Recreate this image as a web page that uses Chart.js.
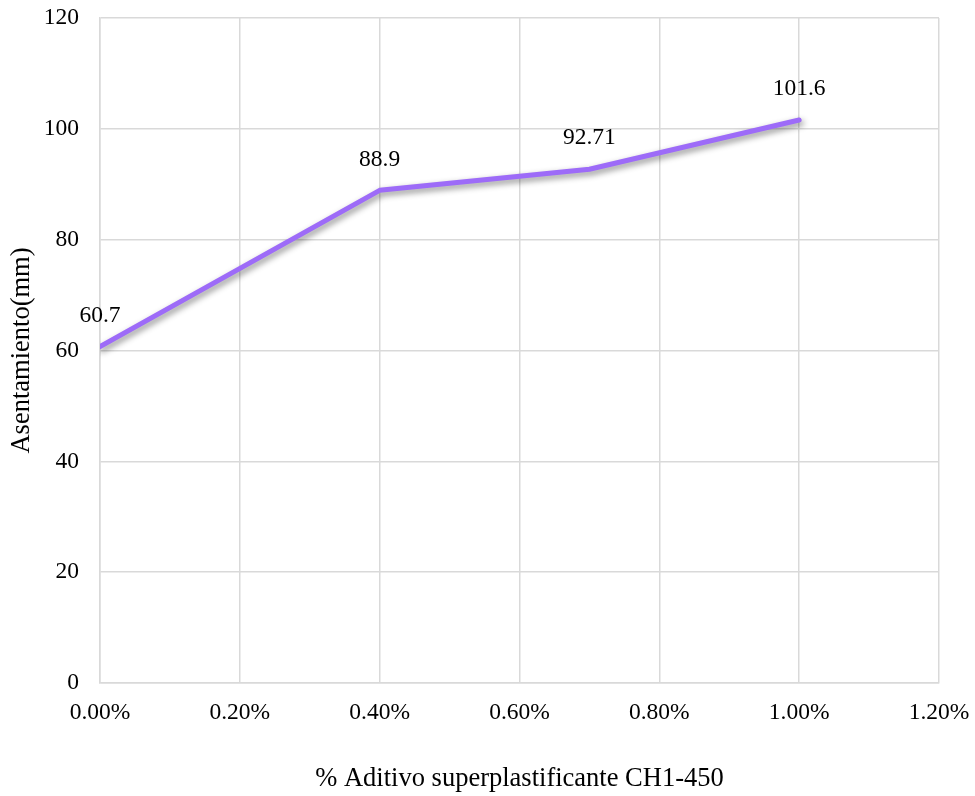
<!DOCTYPE html>
<html>
<head>
<meta charset="utf-8">
<script src="https://cdn.jsdelivr.net/npm/chart.js@4/dist/chart.umd.min.js"></script>
<style>
  html, body { margin: 0; padding: 0; background: #ffffff; }
  #wrap { width: 975px; height: 796px; }
</style>
</head>
<body>
<div id="wrap"><canvas id="chart" width="975" height="796"></canvas></div>
<script>
// Dosage of superplasticizer (% of cement weight) and measured slump (mm)
const aditivoPct = [0.0, 0.4, 0.7, 1.0];
const asentamiento = [60.7, 88.9, 92.71, 101.6];
const xTickValues = [0.0, 0.2, 0.4, 0.6, 0.8, 1.0, 1.2];
const yTickValues = [0, 20, 40, 60, 80, 100, 120];

const FONT = 'Liberation Serif, "Times New Roman", serif';
const TICK_SIZE = 23.5;
const TITLE_SIZE = 26.5;
const GRID = '#d9d9d9';

// Soft drop shadow under the line
const lineShadow = {
  id: 'lineShadow',
  beforeDatasetDraw(chart) {
    const ctx = chart.ctx;
    ctx.save();
    ctx.shadowColor = 'rgba(0,0,0,0.45)';
    ctx.shadowBlur = 6;
    ctx.shadowOffsetX = 2;
    ctx.shadowOffsetY = 3;
  },
  afterDatasetDraw(chart) {
    chart.ctx.restore();
  }
};

// Value labels drawn above each point
const valueLabels = {
  id: 'valueLabels',
  afterDatasetsDraw(chart) {
    const ctx = chart.ctx;
    const meta = chart.getDatasetMeta(0);
    ctx.save();
    ctx.font = TICK_SIZE + 'px ' + FONT;
    ctx.fillStyle = '#000000';
    ctx.textAlign = 'center';
    ctx.textBaseline = 'middle';
    meta.data.forEach((pt, i) => {
      ctx.fillText(String(asentamiento[i]), pt.x, pt.y - 31);
    });
    ctx.restore();
  }
};

new Chart(document.getElementById('chart'), {
  type: 'line',
  data: {
    datasets: [{
      data: aditivoPct.map((x, i) => ({ x: x, y: asentamiento[i] })),
      borderColor: '#9d6bf8',
      borderWidth: 5,
      borderCapStyle: 'round',
      borderJoinStyle: 'round',
      pointRadius: 0,
      pointHoverRadius: 0,
      tension: 0,
      fill: false
    }]
  },
  options: {
    responsive: false,
    animation: false,
    devicePixelRatio: 1,
    layout: { padding: { top: 18, right: 36, bottom: 0, left: 0 } },
    plugins: {
      legend: { display: false },
      tooltip: { enabled: false }
    },
    scales: {
      x: {
        type: 'linear',
        min: 0,
        max: 1.2,
        afterBuildTicks(scale) {
          scale.ticks = xTickValues.map(v => ({ value: v }));
        },
        afterFit(scale) {
          scale.height = 113;
          scale.paddingLeft = 0;
          scale.paddingRight = 0;
        },
        ticks: {
          color: '#000000',
          font: { family: FONT, size: TICK_SIZE },
          padding: 16,
          maxRotation: 0,
          callback: v => Number(v).toFixed(2) + '%'
        },
        grid: { color: GRID, lineWidth: 1.5, drawTicks: false },
        border: { color: GRID, width: 1.5 },
        title: {
          display: true,
          text: '% Aditivo superplastificante CH1-450',
          color: '#000000',
          font: { family: FONT, size: TITLE_SIZE },
          padding: { top: 0, bottom: 1 }
        }
      },
      y: {
        type: 'linear',
        min: 0,
        max: 120,
        afterBuildTicks(scale) {
          scale.ticks = yTickValues.map(v => ({ value: v }));
        },
        afterFit(scale) {
          scale.width = 100;
          scale.paddingTop = 0;
          scale.paddingBottom = 0;
        },
        ticks: {
          color: '#000000',
          font: { family: FONT, size: TICK_SIZE },
          padding: 21
        },
        grid: { color: GRID, lineWidth: 1.5, drawTicks: false },
        border: { color: GRID, width: 1.5 },
        title: {
          display: true,
          text: 'Asentamiento(mm)',
          color: '#000000',
          font: { family: FONT, size: TITLE_SIZE },
          padding: { top: 6, bottom: 0 }
        }
      }
    }
  },
  plugins: [lineShadow, valueLabels]
});
</script>
</body>
</html>
